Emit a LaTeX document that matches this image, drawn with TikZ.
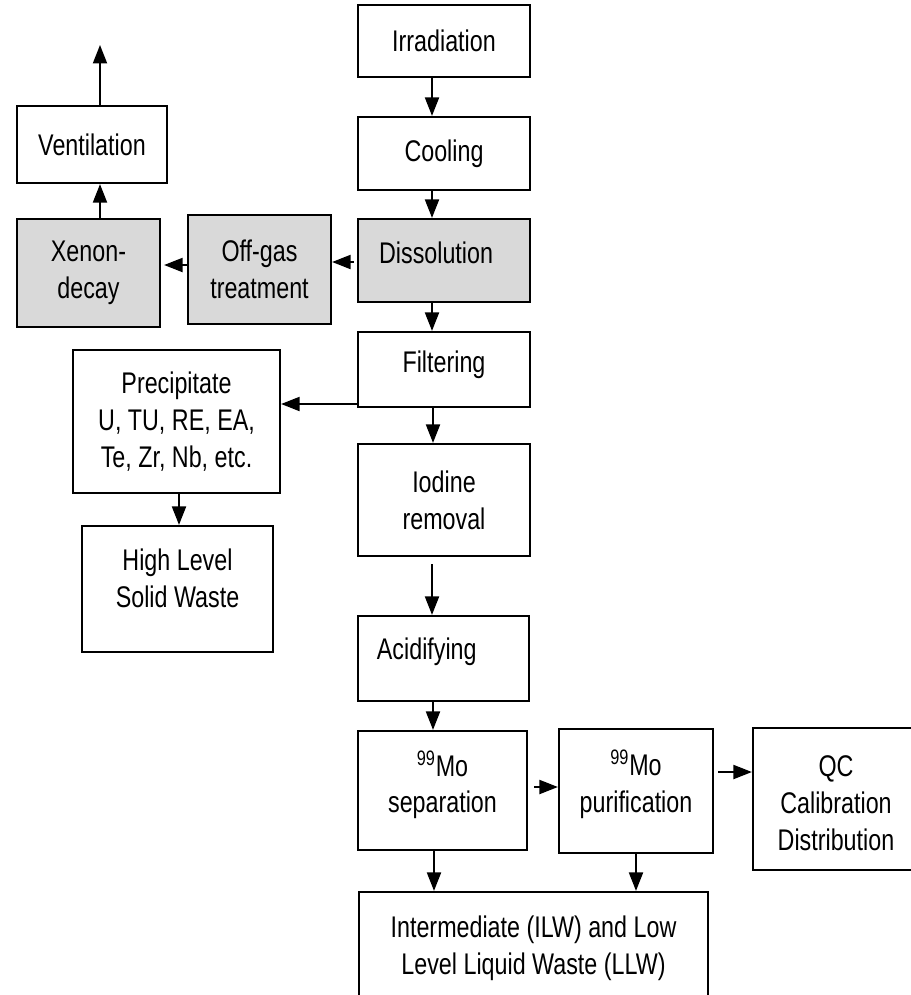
\documentclass[tikz,border=0pt]{standalone}
\usepackage{fontspec}
\setmainfont{Liberation Sans}[FakeStretch=0.78]
\usetikzlibrary{arrows.meta}
\tikzset{
  stage/.style={rectangle, draw=black, line width=1.3pt, fill=white, align=center,
                font=\fontsize{17}{21}\selectfont, inner sep=1pt},
  gasstage/.style={stage, fill=black!15},
  flow/.style={-{Triangle[length=10.5pt,width=8pt]}, line width=1pt},
}

\begin{document}
\begin{tikzpicture}[x=0.02cm, y=-0.02cm]
  \clip (0,0) rectangle (911,995);
  % main line
  \node[stage, minimum width=3.44cm, minimum height=1.44cm] (irr) at (444,41) {Irradiation};
  \node[stage, minimum width=3.44cm, minimum height=1.46cm] (cool) at (444,153.5) {Cooling};
  \node[gasstage, minimum width=3.44cm, minimum height=1.66cm] (diss) at (444,260.5)
    {Dissolution\hspace*{9pt}\\[-12pt]};
  \node[stage, minimum width=3.44cm, minimum height=1.5cm] (filt) at (444,369.5) {Filtering\\[-12.4pt]};
  \node[stage, minimum width=3.44cm, minimum height=2.24cm] (iod) at (444,500) {Iodine\\removal};
  \node[stage, minimum width=3.42cm, minimum height=1.7cm] (acid) at (443.5,658.5)
    {Acidifying\hspace*{19pt}\\[-10pt]};
  \node[stage, minimum width=3.38cm, minimum height=2.38cm] (sep) at (442.5,790.5)
    {\textsuperscript{99}Mo\\separation\\[-11pt]};
  \node[stage, minimum width=3.08cm, minimum height=2.48cm] (pur) at (636,791)
    {\textsuperscript{99}Mo\\purification\\[-9.5pt]};
  \node[stage, minimum width=3.32cm, minimum height=2.84cm] (qc) at (836,799)
    {\\[-4.3pt]QC\\Calibration\\Distribution};
  \node[stage, minimum width=6.98cm, minimum height=2.2cm] (ilw) at (533.5,947)
    {Intermediate (ILW) and Low\\Level Liquid Waste (LLW)\\[-19pt]};
  % off-gas branch
  \node[stage, minimum width=3.0cm, minimum height=1.54cm] (vent) at (92,144.5) {Ventilation};
  \node[gasstage, minimum width=2.86cm, minimum height=2.16cm] (xen) at (88.5,273) {Xenon-\\decay};
  \node[gasstage, minimum width=2.86cm, minimum height=2.18cm] (off) at (259.5,269.5) {Off-gas\\treatment};
  \coordinate (exhaust) at (100,45);
  % solid waste branch
  \node[stage, minimum width=4.14cm, minimum height=2.86cm] (prec) at (176.5,421.5)
    {Precipitate\\U, TU, RE, EA,\\Te, Zr, Nb, etc.};
  \node[stage, minimum width=3.82cm, minimum height=2.52cm] (hlsw) at (177.5,589)
    {High Level\\Solid Waste\\[-9pt]};

  \draw[flow] ([xshift=-0.24cm]irr.south) -- ([xshift=-0.24cm]cool.north);
  \draw[flow] ([xshift=-0.24cm]cool.south) -- ([xshift=-0.24cm]diss.north);
  \draw[flow] ([xshift=-0.24cm]diss.south) -- ([xshift=-0.24cm]filt.north);
  \draw[flow] ([xshift=-0.22cm]filt.south) -- ([xshift=-0.22cm]iod.north);
  \draw[flow] ([xshift=-0.24cm,yshift=-0.14cm]iod.south) -- ([xshift=-0.23cm]acid.north);
  \draw[flow] ([xshift=-0.21cm]acid.south) -- ([xshift=-0.19cm]sep.north);
  \draw[flow] ([xshift=-0.17cm]sep.south) -- ([xshift=-0.17cm]sep.south |- ilw.north);
  \draw[flow] (pur.south) -- (pur.south |- ilw.north);
  \draw[flow] ([xshift=0.12cm,yshift=0.07cm]sep.east) -- ([yshift=0.07cm]sep.east -| pur.west);
  \draw[flow] ([xshift=0.08cm,yshift=0.38cm]pur.east) -- ([yshift=0.38cm]pur.east -| qc.west);
  \draw[flow] ([yshift=-0.69cm]filt.west) -- ([yshift=-0.69cm]filt.west -| prec.east);
  \draw[flow] ([xshift=0.05cm]prec.south) -- ([xshift=0.05cm]prec.south |- hlsw.north);
  \draw[flow] ([xshift=-0.06cm,yshift=-0.03cm]diss.west) -- ([yshift=-0.03cm]diss.west -| off.east);
  \draw[flow] ([yshift=0.09cm]off.west) -- ([xshift=0.06cm,yshift=0.09cm]off.west -| xen.east);
  \draw[flow] ([xshift=0.23cm]xen.north) -- ([xshift=0.23cm]xen.north |- vent.south);
  \draw[flow] (vent.north -| exhaust) -- (exhaust);
\end{tikzpicture}
\end{document}
